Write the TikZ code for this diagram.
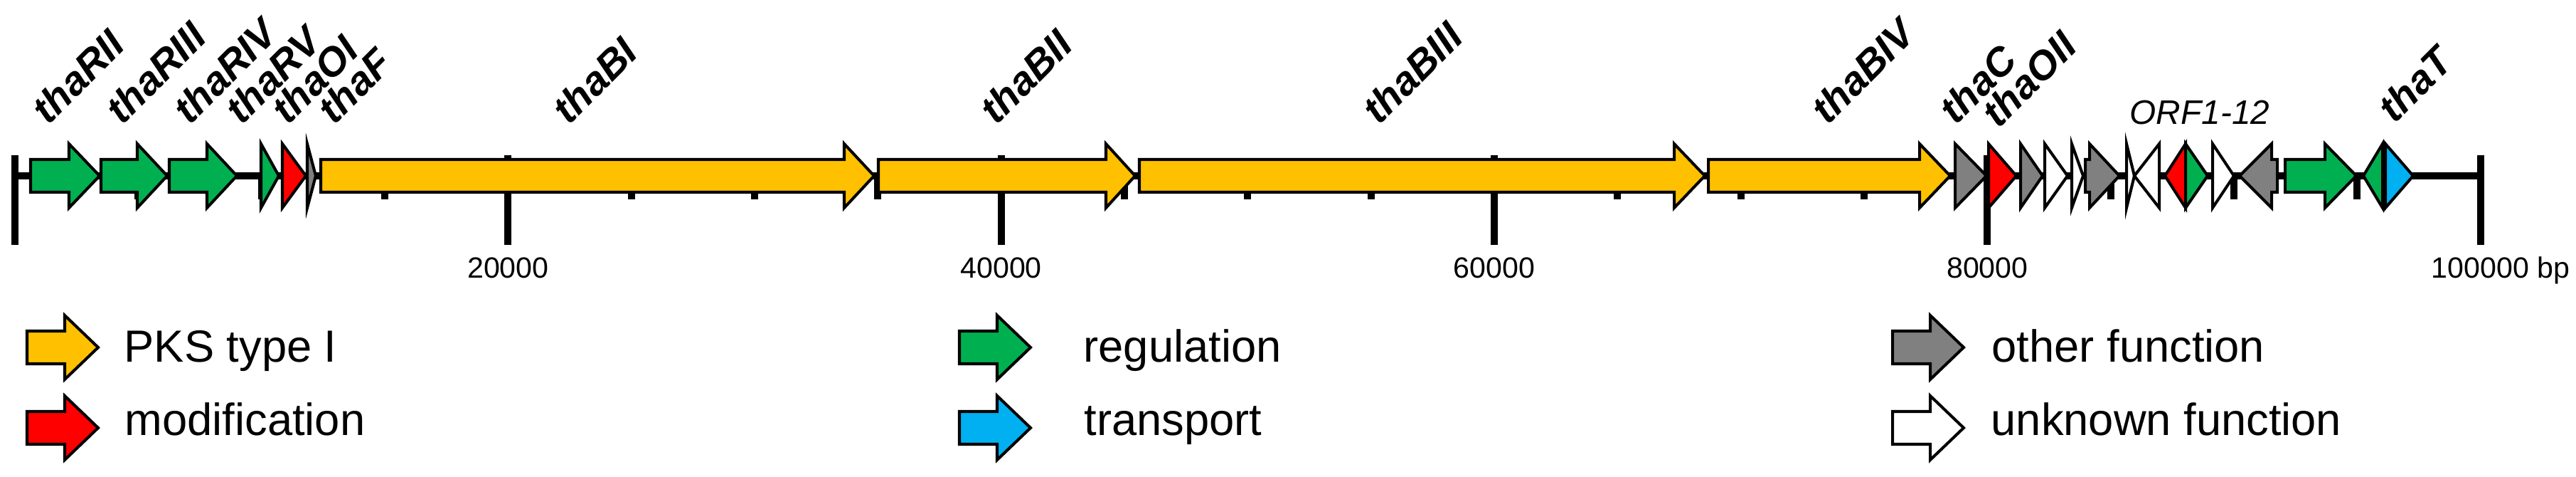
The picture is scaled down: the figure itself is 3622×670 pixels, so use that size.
\documentclass[tikz,border=0pt]{standalone}
\usepackage{fontspec}
\setmainfont{Liberation Sans}
\usetikzlibrary{positioning}
\definecolor{pksyellow}{RGB}{255,192,0}
\definecolor{reggreen}{RGB}{0,176,80}
\definecolor{modred}{RGB}{255,0,0}
\definecolor{transblue}{RGB}{0,176,240}
\definecolor{othergray}{RGB}{128,128,128}

\begin{document}
\begin{tikzpicture}[
    x=0.1mm, y=-0.1mm,
    gene/.style={draw=black, line width=1.15pt, line join=miter},
    backbone/.style={line width=2.6pt},
    ticks/.style={line width=2.85pt},
    glabel/.style={font=\fontsize{16pt}{19pt}\selectfont\bfseries\itshape, rotate=45, anchor=base west, inner sep=0pt},
    numlabel/.style={font=\fontsize{11.7pt}{14pt}\selectfont, anchor=base, inner sep=0pt},
    legtext/.style={font=\fontsize{18pt}{21pt}\selectfont, anchor=base west, inner sep=0pt}
]
    \useasboundingbox (0,0) rectangle (3622,670);

    % --- SCALE ---
    \foreach \k in {1,...,19}
        \draw[ticks] ({21+173.33*\k},247) -- ({21+173.33*\k},280);
    \foreach \k in {0,...,5}
        \draw[ticks] ({21+693.33*\k},218) -- ({21+693.33*\k},344);
    \draw[backbone] (21,247) -- (3487,247);
    \foreach \k/\lab in {1/20000, 2/40000, 3/60000, 4/80000}
        \node[numlabel] (tick\k) at ({21+693.33*\k},391) {\lab};
    \node[numlabel, anchor=base west] (tick5) at (3418,391) {100000 bp};

    % --- GENES ---
    \foreach \xa/\hb/\xb/\col in {43/97/140/reggreen, 142/193/235/reggreen, 238/291/333/reggreen,
        451/1187/1229/pksyellow, 1235/1555/1596/pksyellow, 1602/2354/2397/pksyellow,
        2402/2699/2742/pksyellow, 2932/2938/2980/othergray, 3202/3194/3149/othergray,
        3213/3269/3313/reggreen}
        \draw[gene, fill=\col] (\xa,224) -- (\hb,224) -- (\hb,202) -- (\xb,247)
            -- (\hb,292) -- (\hb,270) -- (\xa,270) -- cycle;
    \foreach \hb/\xb/\col in {367/392/reggreen, 397/430/modred, 432/444/othergray,
        2749/2793/othergray, 2796/2835/modred, 2841/2872/othergray, 2875/2907/white,
        2913/2929/white, 2990/3001/white, 3036/3001/white, 3073/3044/modred,
        3073/3104/reggreen, 3111/3141/white, 3350/3323/reggreen, 3354/3393/transblue}
        \draw[gene, fill=\col] (\hb,202) -- (\xb,247) -- (\hb,292) -- cycle;

    % --- GENE NAMES ---
    \node[glabel] (thaRII) at (68,177) {thaRII};
    \node[glabel] (thaRIII) at (172,177) {thaRIII};
    \node[glabel] (thaRIV) at (267,177) {thaRIV};
    \node[glabel] (thaRV) at (340,177) {thaRV};
    \node[glabel] (thaOI) at (405,177) {thaOI};
    \node[glabel] (thaF) at (470,177) {thaF};
    \node[glabel] (thaBI) at (800,177) {thaBI};
    \node[glabel] (thaBII) at (1401,177) {thaBII};
    \node[glabel] (thaBIII) at (1939,177) {thaBIII};
    \node[glabel] (thaBIV) at (2570,177) {thaBIV};
    \node[glabel] (thaC) at (2750,177) {thaC};
    \node[glabel] (thaOII) at (2810,182) {thaOII};
    \node[glabel] (thaT) at (3367,175) {thaT};
    \node[font=\fontsize{13.6pt}{16pt}\selectfont\itshape, anchor=base west, inner sep=0pt] (orf) at (2994,175) {ORF1-12};

    % --- LEGEND ---
    \foreach \xa/\yc/\col in {38/488/pksyellow, 38/601/modred, 1349/488/reggreen,
        1349/601/transblue, 2661/488/othergray, 2661/601/white}
        \draw[gene, fill=\col] (\xa,\yc-23) -- (\xa+53,\yc-23) -- (\xa+53,\yc-45) -- (\xa+100,\yc)
            -- (\xa+53,\yc+45) -- (\xa+53,\yc+23) -- (\xa,\yc+23) -- cycle;
    \node[legtext] (pks) at (174,509) {PKS type I};
    \node[legtext] (modif) at (175,612) {modification};
    \node[legtext] (regul) at (1523,509) {regulation};
    \node[legtext] (transp) at (1524,612) {transport};
    \node[legtext] (other) at (2800,509) {other function};
    \node[legtext] (unknown) at (2799,612) {unknown function};

\end{tikzpicture}
\end{document}
